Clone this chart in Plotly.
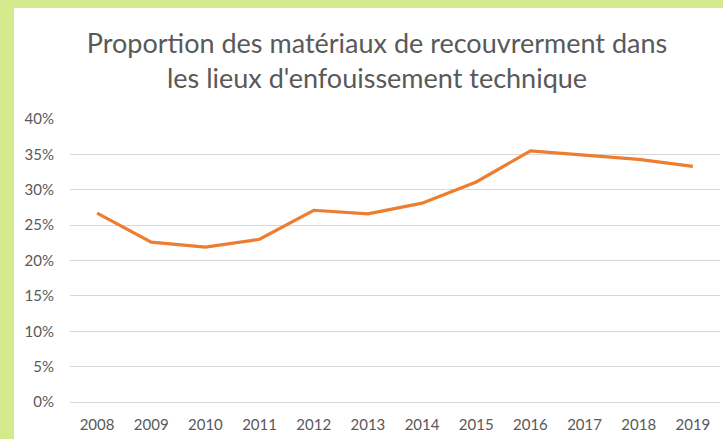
import plotly.graph_objects as go

years = ["2008", "2009", "2010", "2011", "2012", "2013", "2014", "2015", "2016", "2017", "2018", "2019"]
proportion = [0.267, 0.226, 0.219, 0.230, 0.271, 0.266, 0.281, 0.311, 0.355, 0.349, 0.343, 0.333]

W, H = 723, 439
ml, mr, mt, mb = 70, 3, 119, 37
pw, ph = W - ml - mr, H - mt - mb

fig = go.Figure()
fig.add_trace(go.Scatter(x=years, y=proportion, mode="lines",
                         line=dict(color="#ED7D31", width=3.2), hoverinfo="skip"))

# white chart area over green frame
fig.add_shape(type="rect", xref="paper", yref="paper", layer="below",
              x0=(14 - ml) / pw, x1=1 + (mr + 5) / pw,
              y0=-(mb + 5) / ph, y1=(H - mb - 8) / ph,
              fillcolor="white", line=dict(width=0))

fig.update_layout(
    width=W, height=H,
    margin=dict(l=ml, r=mr, t=mt, b=mb),
    paper_bgcolor="#d5ea8c",
    plot_bgcolor="rgba(0,0,0,0)",
    showlegend=False,
    title=dict(text="Proportion des matériaux de recouvrerment dans<br>les lieux d'enfouissement technique",
               x=377 / W, xanchor="center", y=1 - 53 / H, yanchor="top",
               font=dict(family="Lato", size=27, color="#595959")),
    font=dict(family="Lato", size=15, color="#595959"),
)
fig.update_xaxes(type="category", range=[-0.5, 11.5], showgrid=False,
                 showline=False, zeroline=False, ticks="", ticklabelstandoff=12,
                 tickfont=dict(size=15, color="#595959"))
fig.update_yaxes(range=[0, 0.40], dtick=0.05, tickformat=".0%",
                 showgrid=True, gridcolor="#d9d9d9", gridwidth=1,
                 zeroline=True, zerolinecolor="#d9d9d9", zerolinewidth=1,
                 showline=False, ticks="", ticklabelstandoff=15,
                 tickfont=dict(size=15, color="#595959"))

fig.write_html("out.html")
